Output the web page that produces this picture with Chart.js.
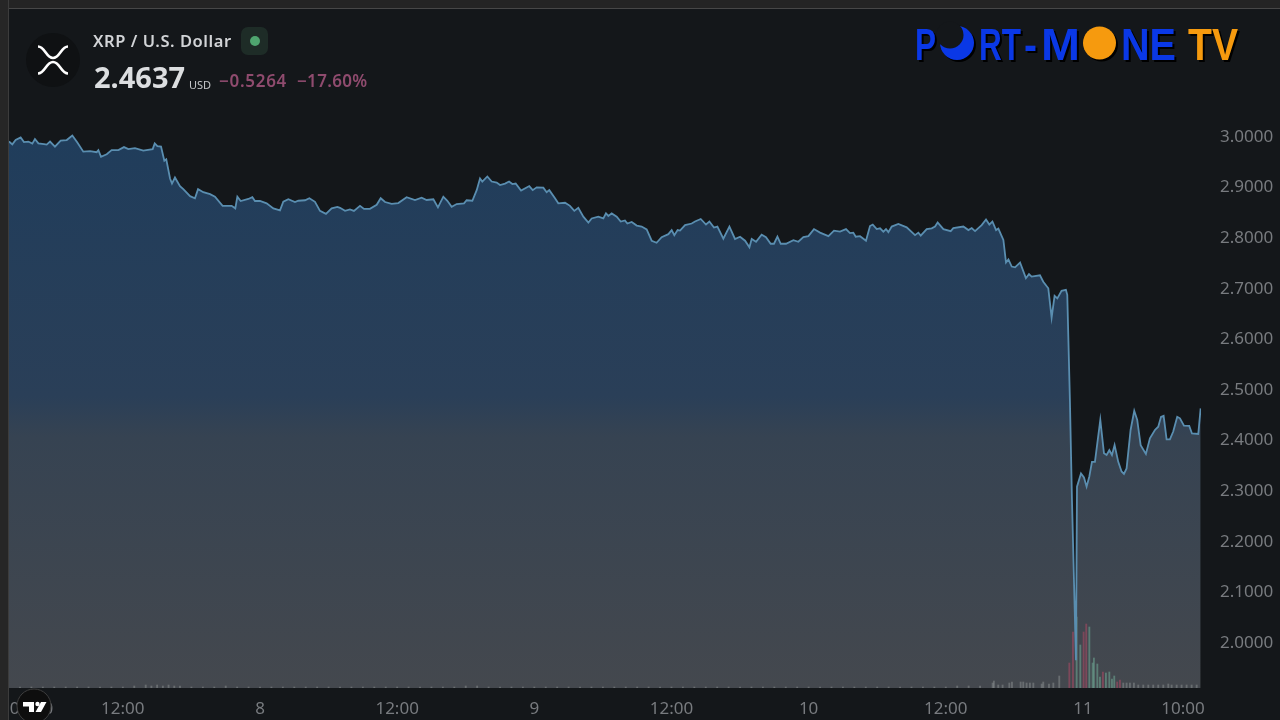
<!DOCTYPE html>
<html>
<head>
<meta charset="utf-8">
<script src="https://cdn.jsdelivr.net/npm/chart.js@4"></script>
<style>
html,body{margin:0;padding:0;background:#14171a;width:1280px;height:720px;overflow:hidden}
#wrap{position:relative;width:1280px;height:720px;font-family:"Noto Sans",sans-serif}
#frameTop{position:absolute;left:0;top:0;width:1280px;height:8px;background:#242424;border-bottom:1px solid #474747}
#frameLeft{position:absolute;left:0;top:0;width:8px;height:720px;background:#262626;border-right:1px solid #3c3c3c}
canvas{position:absolute;left:0;top:0}
.t{position:absolute;white-space:nowrap;line-height:1}
svg{position:absolute;left:0;top:0}
</style>
</head>
<body>
<div id="wrap">
<canvas id="c" width="1280" height="720"></canvas>
<div id="frameTop"></div><div id="frameLeft"></div>
<svg width="1280" height="720">
  <circle cx="53" cy="60" r="27" fill="#0f1113"/>
  <path d="M38 46.5C45 46.5 46 58 53 58S61 46.5 68 46.5M38 73.5C45 73.5 46 62 53 62S61 73.5 68 73.5" fill="none" stroke="#fff" stroke-width="2.6"/>
  <rect x="241" y="27" width="27" height="28" rx="7" fill="#1e2c27"/>
  <circle cx="255" cy="41" r="5" fill="#4fa56f"/>
  <circle cx="34" cy="706" r="17" fill="#0e0e0e" stroke="#3e3e3e"/>
  <path d="M23 702H34V712H29V706.5H23ZM41 702H46.5L41 712H35.5Z" fill="#fff"/>
  <circle cx="37.5" cy="704" r="2.2" fill="#fff"/>
  <g style="filter:drop-shadow(2px 2px 0 #000)" font-family="Liberation Sans" font-weight="700" font-size="45">
    <g fill="#0a38e6">
      <text x="915" y="60" textLength="21" lengthAdjust="spacingAndGlyphs">P</text>
      <text x="979" y="60" textLength="42" lengthAdjust="spacingAndGlyphs">RT</text>
      <text x="1024" y="60" textLength="13" lengthAdjust="spacingAndGlyphs">-</text>
      <text x="1041" y="60" textLength="39" lengthAdjust="spacingAndGlyphs">M</text>
      <text x="1121" y="60" textLength="55" lengthAdjust="spacingAndGlyphs">NE</text>
      <circle cx="957" cy="43" r="17"/>
    </g>
    <circle cx="950" cy="35" r="13.5" fill="#14171a"/>
    <circle cx="1099.5" cy="43" r="16.5" fill="#f69a0e"/>
    <text x="1188" y="60" textLength="50" lengthAdjust="spacingAndGlyphs" fill="#f69a0e">TV</text>
  </g>
</svg>
<div class="t" style="left:93px;top:33px;font-size:16.5px;font-weight:600;color:#d2d4d7;letter-spacing:.55px">XRP / U.S. Dollar</div>
<div class="t" style="left:94px;top:62px;font-size:29px;font-weight:700;color:#dcdee0">2.4637</div>
<div class="t" style="left:189px;top:79px;font-size:11px;color:#c6c8cb">USD</div>
<div class="t" style="left:219px;top:72px;font-size:17px;font-weight:600;color:#8f4b6e;letter-spacing:.7px">−0.5264</div>
<div class="t" style="left:297px;top:72px;font-size:17px;font-weight:600;color:#8f4b6e;letter-spacing:.3px">−17.60%</div>
</div>
<script>
const tickHours = [4,12,24,36,48,60,72,84,96,104.75];
const tickLabels = ["04:00","12:00","8","12:00","9","12:00","10","12:00","11","10:00"];
const priceTicks = [2.0,2.1,2.2,2.3,2.4,2.5,2.6,2.7,2.8,2.9,3.0];

const hours = [
2.04,2.33,2.62,3.06,3.35,3.73,4.08,4.31,4.61,5.10,5.34,5.63,6.06,6.56,7.09,7.58,8.02,8.54,9.13,9.71,
9.86,10.09,10.59,11.02,11.61,12.10,12.48,13.06,13.79,14.61,14.79,15.02,15.34,15.63,15.80,16.13,16.30,16.56,17.00,17.29,
17.88,18.31,18.58,19.04,19.63,20.06,20.73,21.08,21.52,21.84,22.02,22.31,22.98,23.33,23.56,24.00,24.58,25.17,25.75,26.04,
26.48,27.06,27.35,27.94,28.32,28.81,29.25,29.77,30.27,30.77,
31.00,31.44,31.87,32.22,32.75,33.10,33.62,34.21,34.56,34.94,35.52,36.10,36.83,37.56,38.14,38.58,39.17,39.57,40.04,40.39,
40.77,41.21,41.85,42.08,42.58,42.96,43.25,43.45,43.89,44.27,44.71,45.00,45.44,45.79,46.08,46.37,46.84,47.56,47.86,48.21,
48.79,49.08,49.31,49.81,50.10,50.69,51.12,51.50,51.85,52.29,52.73,53.02,53.60,54.04,54.27,54.48,54.77,55.21,55.56,55.93,
56.14,56.52,56.96,57.39,57.83,58.27,58.70,59.14,59.73,60.02,60.25,60.54,
60.75,61.19,61.77,62.06,62.56,63.02,63.32,63.72,64.02,64.54,65.07,65.56,66.00,66.44,66.82,67.02,67.40,67.89,68.27,68.68,
68.97,69.27,69.56,70.02,70.67,71.10,71.54,71.98,72.47,73.00,73.73,74.22,74.75,75.27,75.62,75.91,76.12,76.50,77.02,77.37,
77.61,77.96,78.25,78.54,78.77,78.98,79.27,79.85,80.58,81.31,81.60,81.81,82.33,82.77,83.06,83.29,83.79,84.43,84.66,85.54,
85.98,86.27,86.56,87.14,87.52,87.81,88.08,88.40,88.60,89.04,89.27,89.48,89.77,90.06,90.50,
91.01,91.28,91.51,92.24,92.53,92.97,93.26,93.52,93.76,94.13,94.51,94.63,94.86,95.04,95.39,95.48,95.83,96.09,96.32,96.56,
96.79,97.05,97.26,97.52,97.84,98.07,98.31,98.54,98.77,99.09,99.38,99.59,99.82,100.17,100.49,100.75,101.05,101.51,101.86,102.30,
102.59,102.83,103.06,103.32,103.61,103.90,104.25,104.49,104.84,105.30,105.54,106.09,106.30
];
const prices = [
2.991,2.9855,2.994,2.999,2.990,2.991,2.987,2.996,2.9875,2.986,2.985,2.991,2.981,2.993,2.994,3.003,2.989,2.971,2.972,2.970,
2.974,2.961,2.966,2.974,2.974,2.980,2.976,2.978,2.973,2.976,2.9875,2.982,2.981,2.953,2.956,2.918,2.908,2.920,2.903,2.897,
2.883,2.879,2.897,2.891,2.887,2.882,2.864,2.864,2.864,2.859,2.882,2.8735,2.8775,2.881,2.8735,2.8735,2.869,2.859,2.855,2.872,
2.877,2.8715,2.874,2.875,2.879,2.872,2.854,2.848,2.859,2.862,
2.860,2.854,2.857,2.854,2.864,2.858,2.858,2.866,2.879,2.8715,2.868,2.8695,2.881,2.8755,2.880,2.8755,2.877,2.861,2.882,2.874,
2.862,2.8675,2.869,2.875,2.874,2.895,2.918,2.912,2.922,2.912,2.910,2.905,2.908,2.912,2.907,2.908,2.894,2.903,2.895,2.9005,
2.900,2.891,2.895,2.879,2.869,2.870,2.864,2.854,2.860,2.8425,2.831,2.839,2.8425,2.839,2.849,2.844,2.849,2.8425,2.833,2.835,
2.829,2.832,2.825,2.823,2.8175,2.795,2.791,2.802,2.808,2.816,2.806,2.816,
2.815,2.826,2.829,2.833,2.838,2.827,2.833,2.821,2.823,2.799,2.823,2.7985,2.803,2.795,2.782,2.7985,2.793,2.807,2.802,2.789,
2.789,2.803,2.789,2.789,2.796,2.793,2.802,2.804,2.818,2.811,2.804,2.815,2.813,2.818,2.810,2.811,2.803,2.804,2.795,2.824,
2.827,2.818,2.8195,2.813,2.818,2.812,2.823,2.828,2.8215,2.806,2.811,2.805,2.818,2.8195,2.823,2.831,2.818,2.814,2.820,2.823,
2.816,2.820,2.814,2.826,2.837,2.827,2.833,2.816,2.819,2.7965,2.752,2.758,2.744,2.7425,2.752,
2.721,2.729,2.724,2.7266,2.714,2.701,2.643,2.686,2.681,2.696,2.698,2.688,2.480,2.283,1.966,2.309,2.335,2.327,2.309,2.329,
2.358,2.358,2.395,2.441,2.375,2.3715,2.381,2.3715,2.391,2.358,2.339,2.334,2.345,2.421,2.459,2.441,2.391,2.3735,2.4045,2.421,
2.4275,2.447,2.449,2.4025,2.4025,2.418,2.447,2.444,2.4295,2.429,2.414,2.413,2.4637
];

const volumeHours = [
3,4,5,6,7,8,9,10,11,12,13,14,14.5,15,15.5,16,16.5,17,18,19,20,21,22,23,24,25,26,27,28,29,30,31,32,33,34,35,36,37,38,39,40,
41,42,43,44,45,46,47,48,49,50,51,52,53,54,55,56,57,58,59,60,61,62,63,64,65,66,67,68,69,70,71,72,73,74,75,76,77,78,79,80,81,82,83,84,85,86,87,
88.10,88.21,88.59,88.97,89.56,89.79,90.55,90.78,91.07,91.36,91.66,92.39,92.53,93.03,93.41,93.93,
94.81,95.13,95.45,95.77,96.06,96.29,96.56,96.85,96.96,97.26,97.49,97.75,98.01,98.31,98.54,98.74,99.00,99.24,99.53,99.82,100.11,100.46,
100.84,101.28,101.72,102.15,102.59,103.03,103.47,103.76,104.20,104.63,105.07,105.51,105.95
];
const volumes = [
1,1,1,1,1,1,1,1,1,1,2,3,2,3,2,3,2,2,1,1,1,2,1,1,1,1,1,1,1,1,1,1,1,1,1,1,1,1,1,1,1,
1,2,2,1,1,1,1,1,1,1,1,1,1,1,1,1,1,1,1,1,1,1,1,1,1,1,1,1,1,1,1,1,1,1,1,1,1,1,1,1,1,1,1,1,2,2,2,
5,7,3,3,5,6,6,6,5,5,5,4,6,4,5,12,
25,56,71,43,56,64,61,25,30,24,11,16,15,16,9,12,6,8,5,5,5,5,
3,3,3,3,3,3,4,3,3,3,3,3,3
];
const volumeDirections = [
0,0,0,0,0,0,0,0,0,0,0,0,0,0,0,0,0,0,0,0,0,0,0,0,0,0,0,0,0,0,0,0,0,0,0,0,0,0,0,0,0,
0,0,0,0,0,0,0,0,0,0,0,0,0,0,0,0,0,0,0,0,0,0,0,0,0,0,0,0,0,0,0,0,0,0,0,0,0,0,0,0,0,0,0,0,0,0,0,
0,0,0,0,0,0,0,0,0,0,0,0,0,0,0,0,
-1,-1,1,1,-1,-1,1,1,1,1,1,-1,1,1,1,1,-1,-1,0,0,0,0,
0,0,0,0,0,0,0,0,0,0,0,0,0
];

const pricePoints = hours.map((h,i)=>({x:h,y:prices[i]}));
const volumePoints = volumeHours.map((h,i)=>({x:h,y:volumes[i]}));
const volumeColors = volumeDirections.map(d=>d>0?'rgba(112,170,150,.55)':d<0?'rgba(150,72,95,.7)':'rgba(160,165,165,.4)');

function areaFill(ctx){
  const g = ctx.chart.ctx.createLinearGradient(0,9,0,688);
  g.addColorStop(0,'rgb(27,60,93)');
  g.addColorStop(.57,'rgb(42,63,88)');
  g.addColorStop(.63,'rgb(54,67,82)');
  g.addColorStop(1,'rgb(68,72,78)');
  return g;
}

new Chart(document.getElementById('c'),{
  type:'line',
  data:{datasets:[
    {type:'line',data:pricePoints,order:3,borderWidth:0,borderColor:'transparent',backgroundColor:areaFill,fill:'origin',pointRadius:0,tension:0,xAxisID:'x',yAxisID:'y'},
    {type:'bar',data:volumePoints,order:2,backgroundColor:volumeColors,barThickness:1.2,borderWidth:0,xAxisID:'x',yAxisID:'v'},
    {type:'line',data:pricePoints,order:1,borderWidth:1.8,borderColor:'#5a8eb0',fill:false,pointRadius:0,tension:0,xAxisID:'x',yAxisID:'y'}
  ]},
  options:{
    responsive:false,animation:false,parsing:false,normalized:true,
    layout:{padding:{left:9,top:9,right:0,bottom:0}},
    plugins:{legend:{display:false},tooltip:{enabled:false}},
    scales:{
      x:{type:'linear',min:2.04,max:106.33,offset:false,
        grid:{display:false,drawTicks:false},border:{display:false},
        afterBuildTicks:s=>{s.ticks=tickHours.map(v=>({value:v}));},
        afterFit:s=>{s.height=32;s.paddingLeft=0;s.paddingRight=0;},
        ticks:{autoSkip:false,maxRotation:0,padding:11,color:'#787b7f',font:{family:'Noto Sans',size:17},
          callback:(v,i)=>tickLabels[i]}
      },
      y:{type:'linear',position:'right',min:1.911,max:3.253,
        grid:{display:false,drawTicks:false},border:{display:false},
        afterBuildTicks:s=>{s.ticks=priceTicks.map(v=>({value:v}));},
        afterFit:s=>{s.width=79;s.paddingTop=0;s.paddingBottom=0;},
        ticks:{padding:19,color:'#787b7f',font:{family:'Noto Sans',size:17},
          callback:v=>v.toFixed(4)}
      },
      v:{type:'linear',display:false,min:0,max:679}
    }
  }
});
</script>
</body>
</html>
